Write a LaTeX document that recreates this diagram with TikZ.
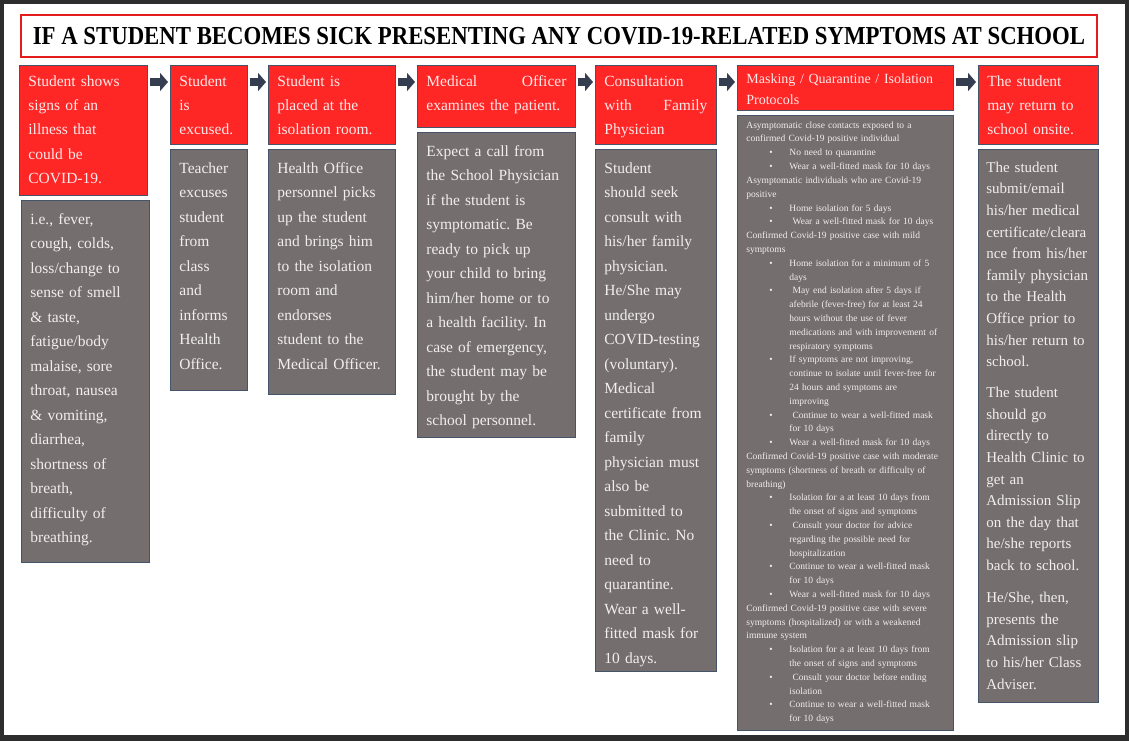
\documentclass[tikz,border=0pt]{standalone}
\usepackage{fontspec}
\setmainfont{Liberation Serif}
\newfontfamily\titlefont[FakeStretch=0.88]{Liberation Serif}
\usetikzlibrary{positioning,arrows.meta}
\definecolor{headred}{RGB}{255,38,38}
\definecolor{bodygray}{RGB}{117,110,110}
\definecolor{edgeblue}{RGB}{68,84,106}
\definecolor{arrowgray}{RGB}{52,62,80}
\definecolor{pagedark}{RGB}{45,45,45}
\definecolor{headtext}{RGB}{255,232,232}
\definecolor{bodytext}{RGB}{242,238,238}
\definecolor{titlered}{RGB}{228,28,28}
\frenchspacing
% bullet line and its continuation
\newcommand{\bl}[1]{\hspace*{23pt}\makebox[20pt][l]{\textbullet}#1}
\newcommand{\cl}[1]{\hspace*{43pt}#1}

\begin{document}
\begin{tikzpicture}[x=1pt,y=-1pt,
every node/.style={draw=edgeblue,line width=0.8pt,anchor=north west,align=left,inner xsep=9pt},
head/.style={fill=headred,text=headtext,font=\fontsize{15.5}{24.3}\selectfont,inner ysep=8pt,text height=13pt,text depth=#1},
body/.style={fill=bodygray,text=bodytext,font=\fontsize{15.5}{24.5}\selectfont,inner ysep=10pt,text height=14pt,text depth=#1},
flow/.style={arrowgray,line width=8pt,-{Triangle[length=8pt,width=18pt]},shorten <=2pt,shorten >=2pt},
node distance=4pt]
\fill[pagedark] (0,0) rectangle (1129,741);
\fill[white] (4,4) rectangle (1125,735);
\useasboundingbox (0,0) rectangle (1129,741);

\node[draw=titlered,line width=2pt,fill=white,anchor=center,align=center,minimum width=1076pt,minimum height=42pt] (title) at (559,36)
  {\titlefont\bfseries\fontsize{25.9}{28}\selectfont IF A STUDENT BECOMES SICK PRESENTING ANY COVID-19-RELATED SYMPTOMS AT SCHOOL};

% step headers
\node[head=101pt,text width=110pt] (h1) at (19,65) {Student shows\\ signs of an\\ illness that\\ could be\\ COVID-19.};
\node[head=50pt,text width=59pt] (h2) at (170,65) {Student\\ is\\ excused.};
\node[head=50pt,text width=109pt] (h3) at (268,65) {Student is\\ placed at the\\ isolation room.};
\node[head=33pt,text width=140pt] (h4) at (417,65) {Medical\hfill Officer\\ examines the patient.};
\node[head=50pt,text width=103pt] (h5) at (595,65) {Consultation\\ with\hfill Family\\ Physician};
\node[head=19pt,text width=198pt,font=\fontsize{14}{21}\selectfont,text height=10pt] (h6) at (737,65) {Masking / Quarantine / Isolation\\ Protocols};
\node[head=50pt,text width=102pt] (h7) at (978,65) {The student\\ may return to\\ school onsite.};

% details
\node[body=328pt,text width=110pt] (b1) [below=of h1.south west,anchor=north west,xshift=2pt] {i.e., fever,\\ cough, colds,\\ loss/change to\\ sense of smell\\ \& taste,\\ fatigue/body\\ malaise, sore\\ throat, nausea\\ \& vomiting,\\ diarrhea,\\ shortness of\\ breath,\\ difficulty of\\ breathing.};
\node[body=207pt,text width=59pt] (b2) [below=of h2.south west,anchor=north west] {Teacher\\ excuses\\ student\\ from\\ class\\ and\\ informs\\ Health\\ Office.};
\node[body=211pt,text width=109pt] (b3) [below=of h3.south west,anchor=north west] {Health Office\\ personnel picks\\ up the student\\ and brings him\\ to the isolation\\ room and\\ endorses\\ student to the\\ Medical Officer.};
\node[body=271pt,text width=140pt] (b4) [below=of h4.south west,anchor=north west] {Expect a call from\\ the School Physician\\ if the student is\\ symptomatic. Be\\ ready to pick up\\ your child to bring\\ him/her home or to\\ a health facility. In\\ case of emergency,\\ the student may be\\ brought by the\\ school personnel.};
\node[body=488pt,text width=103pt] (b5) [below=of h5.south west,anchor=north west] {Student\\ should seek\\ consult with\\ his/her family\\ physician.\\ He/She may\\ undergo\\ COVID-testing\\ (voluntary).\\ Medical\\ certificate from\\ family\\ physician must\\ also be\\ submitted to\\ the Clinic. No\\ need to\\ quarantine.\\ Wear a well-\\ fitted mask for\\ 10 days.};
\node[body=596pt,text width=198pt,font=\fontsize{9.5}{13.8}\selectfont,text height=7pt,inner ysep=6pt] (b6) [below=of h6.south west,anchor=north west]
  {Asymptomatic close contacts exposed to a\\ confirmed Covid-19 positive individual\\
   \bl{No need to quarantine}\\ \bl{Wear a well-fitted mask for 10 days}\\
   Asymptomatic individuals who are Covid-19\\ positive\\
   \bl{Home isolation for 5 days}\\ \bl{\ Wear a well-fitted mask for 10 days}\\
   Confirmed Covid-19 positive case with mild\\ symptoms\\
   \bl{Home isolation for a minimum of 5}\\ \cl{days}\\
   \bl{\ May end isolation after 5 days if}\\ \cl{afebrile (fever-free) for at least 24}\\ \cl{hours without the use of fever}\\ \cl{medications and with improvement of}\\ \cl{respiratory symptoms}\\
   \bl{If symptoms are not improving,}\\ \cl{continue to isolate until fever-free for}\\ \cl{24 hours and symptoms are}\\ \cl{improving}\\
   \bl{\ Continue to wear a well-fitted mask}\\ \cl{for 10 days}\\
   \bl{Wear a well-fitted mask for 10 days}\\
   Confirmed Covid-19 positive case with moderate\\ symptoms (shortness of breath or difficulty of\\ breathing)\\
   \bl{Isolation for a at least 10 days from}\\ \cl{the onset of signs and symptoms}\\
   \bl{\ Consult your doctor for advice}\\ \cl{regarding the possible need for}\\ \cl{hospitalization}\\
   \bl{Continue to wear a well-fitted mask}\\ \cl{for 10 days}\\
   \bl{Wear a well-fitted mask for 10 days}\\
   Confirmed Covid-19 positive case with severe\\ symptoms (hospitalized) or with a weakened\\ immune system\\
   \bl{Isolation for a at least 10 days from}\\ \cl{the onset of signs and symptoms}\\
   \bl{\ Consult your doctor before ending}\\ \cl{isolation}\\
   \bl{Continue to wear a well-fitted mask}\\ \cl{for 10 days}};
\node[body=520pt,text width=104pt,inner xsep=8pt,font=\fontsize{15}{21.6}\selectfont,text height=13pt,inner ysep=10pt] (b7) [below=of h7.south west,anchor=north west] {The student\\ submit/email\\ his/her medical\\ certificate/cleara\\ nce~from~his/her\\ family~physician\\ to the Health\\ Office prior to\\ his/her return to\\ school.\\[9.5pt] The student\\ should go\\ directly to\\ Health Clinic to\\ get an\\ Admission Slip\\ on the day that\\ he/she reports\\ back to school.\\[10.5pt] He/She, then,\\ presents the\\ Admission slip\\ to his/her Class\\ Adviser.};

\draw[flow] ([yshift=-17pt]h1.north east) -- ([yshift=-17pt]h2.north west);
\draw[flow] ([yshift=-17pt]h2.north east) -- ([yshift=-17pt]h3.north west);
\draw[flow] ([yshift=-17pt]h3.north east) -- ([yshift=-17pt]h4.north west);
\draw[flow] ([yshift=-17pt]h4.north east) -- ([yshift=-17pt]h5.north west);
\draw[flow] ([yshift=-17pt]h5.north east) -- ([yshift=-17pt]h6.north west);
\draw[flow] ([yshift=-17pt]h6.north east) -- ([yshift=-17pt]h7.north west);
\end{tikzpicture}
\end{document}
